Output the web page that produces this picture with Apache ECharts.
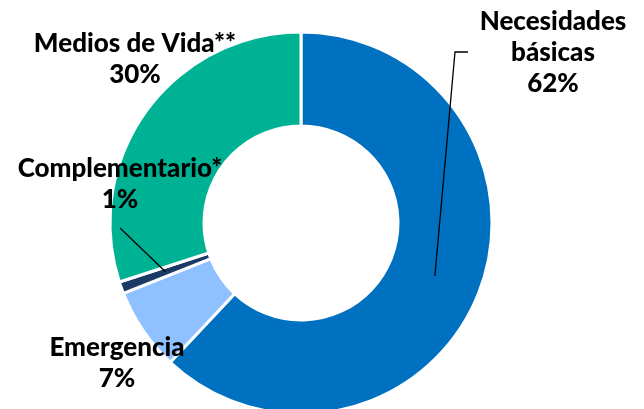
<!DOCTYPE html>
<html>
<head>
<meta charset="utf-8">
<script src="https://cdn.jsdelivr.net/npm/echarts@6/dist/echarts.min.js"></script>
<style>
  html, body { margin: 0; padding: 0; background: #fff; }
  #chart { width: 644px; height: 409px; }
</style>
</head>
<body>
<div id="chart"></div>
<script>
// Gegevens van de grafiek.
const categories = ['Necesidades básicas', 'Emergencia', 'Complementario*', 'Medios de Vida**'];
const values = [62, 7, 1, 30];
const colors = ['#0070C0', '#8FC0FF', '#1B3A66', '#00B294'];

// Plaats van de labels (midden van het tekstblok).
const labelPos = [[553, 53], [117, 363], [120, 184], [135, 59]];

let chart = echarts.init(document.getElementById('chart'));

let option = {
    animation: false,
    series: [{
        type: 'pie',
        center: [301, 223],
        radius: [97, 191],
        startAngle: 90,
        clockwise: true,
        itemStyle: { borderColor: '#fff', borderWidth: 3 },
        label: {
            show: true,
            position: 'inside',
            overflow: 'none',
            fontFamily: 'Lato',
            fontWeight: 900,
            fontSize: 26,
            lineHeight: 31,
            color: '#000',
            align: 'center',
            formatter: p => (p.dataIndex === 0 ? p.name.replace(' ', '\n') : p.name) + '\n' + p.value + '%'
        },
        labelLine: { show: false },
        labelLayout: p => ({
            x: labelPos[p.dataIndex][0],
            y: labelPos[p.dataIndex][1],
            align: 'center',
            verticalAlign: 'middle'
        }),
        data: categories.map((c, i) => ({ name: c, value: values[i], itemStyle: { color: colors[i] } }))
    }]
};
chart.setOption(option);

// Verbindingslijnen vanaf het midden van het segment naar het label.
let data = chart.getModel().getSeriesByIndex(0).getData();
function centroid(i) {
    let l = data.getItemLayout(i);
    let a = (l.startAngle + l.endAngle) / 2;
    let r = (l.r + l.r0) / 2;
    return [l.cx + r * Math.cos(a), l.cy + r * Math.sin(a)];
}
let c0 = centroid(0);
let c2 = centroid(2);
chart.setOption({
    graphic: [
        {
            type: 'polyline', z: 100,
            shape: { points: [c0, [labelPos[0][0] - 98, labelPos[0][1] - 1], [labelPos[0][0] - 85, labelPos[0][1] - 1]] },
            style: { stroke: '#000', lineWidth: 1.3, fill: null }
        },
        {
            type: 'polyline', z: 100,
            shape: { points: [c2, [labelPos[2][0], labelPos[2][1] + 44]] },
            style: { stroke: '#000', lineWidth: 1.3, fill: null }
        }
    ]
});
</script>
</body>
</html>
